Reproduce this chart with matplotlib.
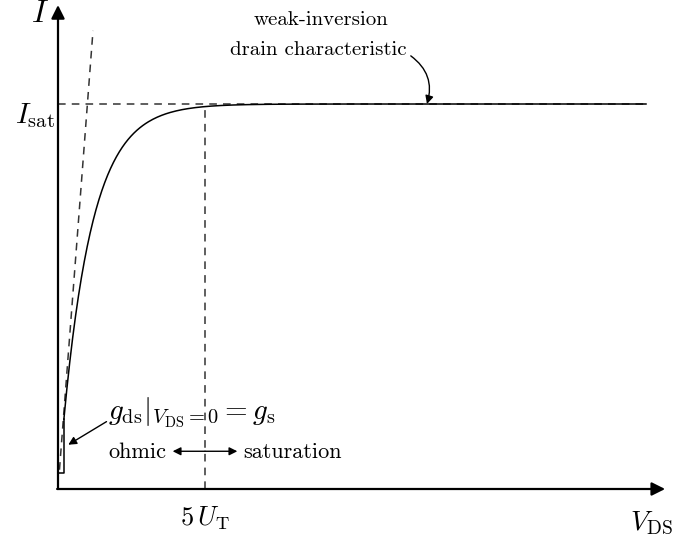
import numpy as np
import matplotlib.pyplot as plt

plt.rcParams['mathtext.fontset'] = 'cm'
plt.rcParams['font.family'] = 'cmr10'
plt.rcParams['axes.formatter.use_mathtext'] = True

# data in units: V / U_T and I / I_sat
v_max = 20.0
v_knee = 5.0          # 5 U_T
i_sat = 1.0
tangent_end = 1.19

v = np.linspace(0.2, v_max, 400)
i = i_sat * (1 - np.exp(-v))

fig = plt.figure(figsize=(6.75, 5.38), dpi=100)
ax = fig.add_axes([0, 0, 1, 1])
ax.set_xlim(-58 / 29.4, (675 - 58) / 29.4)
ax.set_ylim((489 - 538) / 385, 489 / 385)
ax.axis('off')

# axes with arrows
ax.annotate('', xy=(0, 1.257), xytext=(0, 0),
            arrowprops=dict(arrowstyle='-|>', lw=1.6, color='black', mutation_scale=20, shrinkA=0, shrinkB=0))
ax.annotate('', xy=(20.65, 0), xytext=(-0.03, 0),
            arrowprops=dict(arrowstyle='-|>', lw=1.6, color='black', mutation_scale=20, shrinkA=0, shrinkB=0))

# drain characteristic
ax.plot(v, i, color='black', lw=1.1)
ax.plot([0, 0.2, 0.2], [0.042, 0.042, 1 - np.exp(-0.2)], color='black', lw=1.1)

# dashed guides
dash = dict(color='black', lw=1.1, ls=(0, (5, 4)), alpha=0.8)
ax.plot([0, v_max], [i_sat, i_sat], **dash)
ax.plot([v_knee, v_knee], [0, i_sat], **dash)
ax.plot([0.05, tangent_end], [0.05, tangent_end], **dash)

# labels
ax.text(-0.6, 1.268, '$I$', fontsize=23, ha='center', va='top')
ax.text(-0.1, 0.97, r'$I_{\rm sat}$', fontsize=21, ha='right', va='center')
ax.text(v_knee, -0.075, r'$5\,U_{\rm T}$', fontsize=19, ha='center', va='center')
ax.text(20.9, -0.09, r'$V_{\rm DS}$', fontsize=20, ha='right', va='center')

ax.text(8.95, 1.218, 'weak-inversion', fontsize=15, ha='center', va='center')
ax.text(8.85, 1.14, 'drain characteristic', fontsize=15, ha='center', va='center')
ax.annotate('', xy=(12.55, 1.0), xytext=(12.0, 1.125),
            arrowprops=dict(arrowstyle='-|>', lw=1.0, color='black', connectionstyle='arc3,rad=-0.35',
                            mutation_scale=12, shrinkA=0, shrinkB=0))

ax.text(1.7, 0.2, r'$g_{\rm ds}|_{V_{\rm DS}=0} = g_{\rm s}$', fontsize=21, ha='left', va='center')
ax.annotate('', xy=(0.35, 0.115), xytext=(1.65, 0.175),
            arrowprops=dict(arrowstyle='-|>', lw=1.0, color='black', mutation_scale=12, shrinkA=0, shrinkB=0))

ax.text(1.7, 0.095, 'ohmic', fontsize=16, ha='left', va='center')
ax.text(6.3, 0.095, 'saturation', fontsize=16, ha='left', va='center')
ax.annotate('', xy=(3.9, 0.098), xytext=(v_knee, 0.098),
            arrowprops=dict(arrowstyle='-|>', lw=1.0, color='black', mutation_scale=12, shrinkA=0, shrinkB=0))
ax.annotate('', xy=(6.1, 0.098), xytext=(v_knee, 0.098),
            arrowprops=dict(arrowstyle='-|>', lw=1.0, color='black', mutation_scale=12, shrinkA=0, shrinkB=0))

fig.savefig('out.png', dpi=100)
